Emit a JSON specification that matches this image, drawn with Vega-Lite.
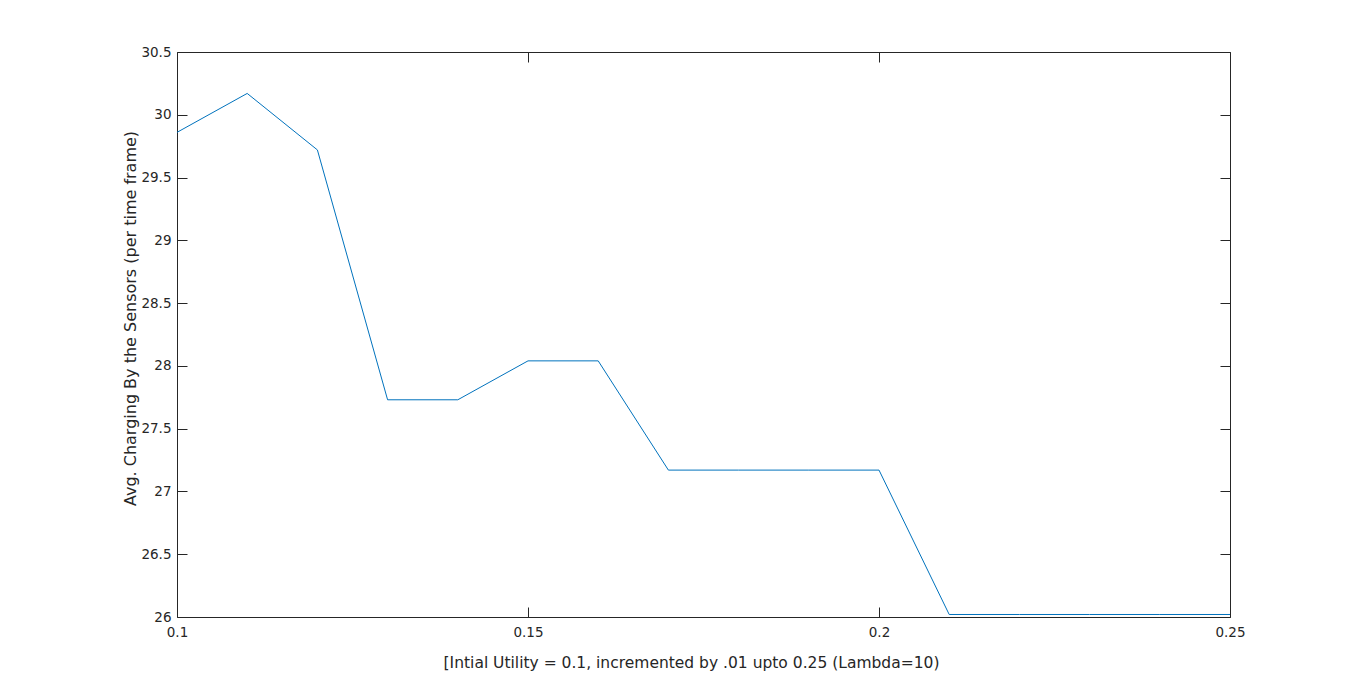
{
  "$schema": "https://vega.github.io/schema/vega-lite/v6.json",
  "width": 1053,
  "height": 565,
  "autosize": {"type": "none"},
  "padding": {"left": 177, "top": 52, "right": 130, "bottom": 78},
  "background": "white",
  "config": {
    "view": {"stroke": null},
    "font": "DejaVu Sans",
    "axis": {
      "grid": false,
      "domainColor": "#262626",
      "tickColor": "#262626",
      "labelColor": "#262626",
      "titleColor": "#262626",
      "labelFont": "DejaVu Sans",
      "titleFont": "DejaVu Sans",
      "labelFontSize": 13.5,
      "titleFontSize": 15.5,
      "titleFontWeight": "normal",
      "tickSize": -10,
      "domainWidth": 1,
      "tickWidth": 1,
      "labelFlush": false,
      "labelOverlap": false
    }
  },
  "data": {
    "values": [
      {"x": 0.10, "y": 29.86},
      {"x": 0.11, "y": 30.17},
      {"x": 0.12, "y": 29.72},
      {"x": 0.13, "y": 27.73},
      {"x": 0.14, "y": 27.73},
      {"x": 0.15, "y": 28.04},
      {"x": 0.16, "y": 28.04},
      {"x": 0.17, "y": 27.17},
      {"x": 0.18, "y": 27.17},
      {"x": 0.19, "y": 27.17},
      {"x": 0.20, "y": 27.17},
      {"x": 0.21, "y": 26.02},
      {"x": 0.22, "y": 26.02},
      {"x": 0.23, "y": 26.02},
      {"x": 0.24, "y": 26.02},
      {"x": 0.25, "y": 26.02}
    ]
  },
  "layer": [
    {
      "mark": {"type": "line", "color": "#0072BD", "strokeWidth": 1},
      "encoding": {
        "x": {
          "field": "x", "type": "quantitative",
          "scale": {"domain": [0.1, 0.25], "nice": false, "zero": false},
          "axis": {
            "orient": "bottom",
            "values": [0.1, 0.15, 0.2, 0.25],
            "format": ".2~f",
            "labelPadding": 18,
            "title": "[Intial Utility = 0.1, incremented by .01 upto 0.25 (Lambda=10)",
            "titleX": 514,
            "titleY": 45,
            "titleAlign": "center",
            "titleBaseline": "middle"
          }
        },
        "y": {
          "field": "y", "type": "quantitative",
          "scale": {"domain": [26, 30.5], "nice": false, "zero": false},
          "axis": {
            "orient": "left",
            "values": [26, 26.5, 27, 27.5, 28, 28.5, 29, 29.5, 30, 30.5],
            "format": ".1~f",
            "labelPadding": 16,
            "title": "Avg. Charging By the Sensors (per time frame)",
            "titleFontSize": 16,
            "titleX": -47,
            "titleY": 266,
            "titleAlign": "center",
            "titleBaseline": "middle"
          }
        }
      }
    },
    {
      "mark": {"type": "line", "opacity": 0},
      "encoding": {
        "x": {
          "field": "x", "type": "quantitative",
          "scale": {"domain": [0.1, 0.25], "nice": false, "zero": false},
          "axis": {"orient": "top", "values": [0.1, 0.15, 0.2, 0.25], "labels": false, "title": null}
        },
        "y": {
          "field": "y", "type": "quantitative",
          "scale": {"domain": [26, 30.5], "nice": false, "zero": false},
          "axis": {"orient": "right", "values": [26, 26.5, 27, 27.5, 28, 28.5, 29, 29.5, 30, 30.5], "labels": false, "title": null}
        }
      }
    }
  ],
  "resolve": {"axis": {"x": "independent", "y": "independent"}}
}
